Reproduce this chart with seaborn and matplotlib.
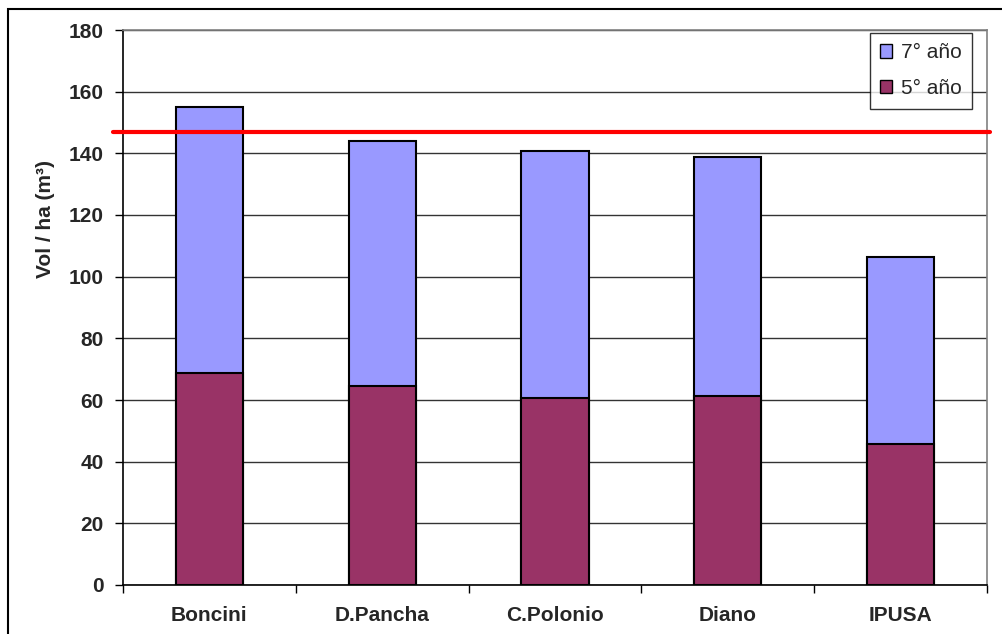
import matplotlib
matplotlib.use("Agg")
import matplotlib.pyplot as plt
from matplotlib.patches import Rectangle, Patch
import seaborn as sns
import pandas as pd

# Stand volume per hectare by site
sites = ["Boncini", "D.Pancha", "C.Polonio", "Diano", "IPUSA"]
vol_7 = [155.0, 144.0, 140.8, 138.8, 106.3]   # 7° año
vol_5 = [68.6, 64.6, 60.8, 61.4, 45.8]        # 5° año
reference_level = 147.0

sns.set_theme(style="white")
plt.rcParams["font.family"] = ["Liberation Sans", "DejaVu Sans"]

fig = plt.figure(figsize=(10.03, 6.34), dpi=100)
ax = fig.add_axes([123 / 1003, 1 - 585 / 634, 864 / 1003, 555 / 634])

df7 = pd.DataFrame({"site": sites, "vol": vol_7})
df5 = pd.DataFrame({"site": sites, "vol": vol_5})

sns.barplot(data=df7, x="site", y="vol", color="#9999FF", saturation=1,
            width=0.39, edgecolor="black", linewidth=1.5, ax=ax, zorder=3)
sns.barplot(data=df5, x="site", y="vol", color="#993366", saturation=1,
            width=0.39, edgecolor="black", linewidth=1.5, ax=ax, zorder=4)

ax.axhline(reference_level, xmin=-0.012, xmax=1.004, color="#FF0000",
           linewidth=3, clip_on=False, zorder=5)

ax.set_ylim(0, 180)
ax.set_xlim(-0.5, len(sites) - 0.5)
ax.set_yticks(range(0, 181, 20))
ax.yaxis.grid(True, color="#333333", linewidth=1)
ax.set_axisbelow(True)

# Category boundary ticks on x, labels centred under the bars
ax.set_xticks([i - 0.5 for i in range(len(sites) + 1)], minor=False)
ax.set_xticklabels([])
ax.set_xticks(range(len(sites)), minor=True)
ax.set_xticklabels(sites, minor=True, fontsize=15, fontweight="bold")
ax.tick_params(axis="x", which="major", direction="out", length=6,
               width=1, color="black", bottom=True)
ax.tick_params(axis="x", which="minor", length=0, pad=15)
ax.tick_params(axis="y", direction="out", length=6, width=1, color="black",
               left=True, labelsize=15, pad=8)
for lbl in ax.get_yticklabels():
    lbl.set_fontweight("bold")

ax.set_xlabel("")
ax.set_ylabel("Vol / ha (m³)", fontsize=15, fontweight="bold")
ax.yaxis.set_label_coords(-0.079, 0.66)

for side in ["left", "bottom"]:
    ax.spines[side].set_color("black")
    ax.spines[side].set_linewidth(1.2)
for side in ["top", "right"]:
    ax.spines[side].set_color("#808080")
    ax.spines[side].set_linewidth(1.2)

handles = [Patch(facecolor="#9999FF", edgecolor="black", label="7° año"),
           Patch(facecolor="#993366", edgecolor="black", label="5° año")]
leg = ax.legend(handles=handles, loc="upper right",
                bbox_to_anchor=(972 / 1003, 1 - 33 / 634),
                bbox_transform=fig.transFigure, fontsize=15,
                frameon=True, fancybox=False, handlelength=0.6,
                handleheight=0.6, handletextpad=0.4, labelspacing=0.8,
                borderpad=0.5, borderaxespad=0)
leg.get_frame().set_edgecolor("black")
leg.get_frame().set_linewidth(1)
leg.set_zorder(10)

# Outer chart border
fig.patches.append(Rectangle((8 / 1003, -0.1), 1.2, 1 - 9 / 634 + 0.1,
                             transform=fig.transFigure, fill=False,
                             edgecolor="black", linewidth=1.5))

fig.savefig("out.png", dpi=100)
